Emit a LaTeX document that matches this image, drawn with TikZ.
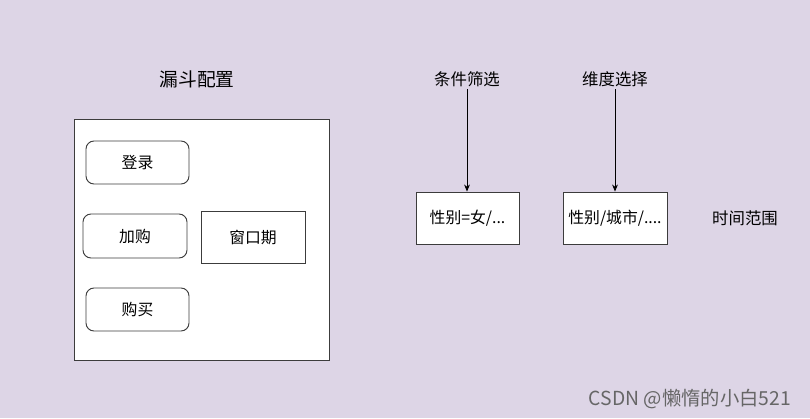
\documentclass[tikz,border=0pt]{standalone}
\usepackage{fontspec}
\setmainfont{Noto Sans CJK SC}
\newfontfamily\wmfont{Noto Sans CJK SC}
\usetikzlibrary{arrows.meta}
\definecolor{bgpurple}{RGB}{221,213,230}
\definecolor{linegray}{RGB}{60,60,60}

\begin{document}
\begin{tikzpicture}[x=0.03cm,y=-0.03cm,
	box/.style={draw=linegray,line width=0.8pt,fill=white,inner sep=0pt,font=\fontsize{13.5}{16}\selectfont},
	stepbox/.style={box,rounded corners=0.24cm},
	label/.style={inner sep=2pt,font=\fontsize{14}{16}\selectfont},
	flow/.style={draw=black,line width=0.7pt,-{Stealth[length=6pt,width=5pt]}}]
	\fill[bgpurple] (0,0) rectangle (810,418);
	\useasboundingbox (0,0) rectangle (810,418);

	% funnel part
	\node[label,font=\fontsize{16}{18}\selectfont] (title) at (197,79) {漏斗配置};
	\node[box,minimum width=7.65cm,minimum height=7.23cm] (funnel) at (201.5,239.5) {};
	\node[stepbox,minimum width=3.09cm,minimum height=1.29cm] (login) at (137.5,162.5) {登录};
	\node[stepbox,minimum width=3.12cm,minimum height=1.32cm] (cart) at (135,236) {加购};
	\node[stepbox,minimum width=3.09cm,minimum height=1.29cm] (buy) at (137.5,309.5) {购买};
	\node[box,minimum width=3.12cm,minimum height=1.56cm] (window) at (253,237) {窗口期};

	% filters
	\node[label] (cond) at (467,79) {条件筛选};
	\node[label] (dim) at (615,79) {维度选择};
	\node[box,minimum width=3.09cm,minimum height=1.56cm] (f1) at (467.5,218) {性别=女/...};
	\node[box,minimum width=3.12cm,minimum height=1.56cm] (f2) at (615,218) {性别/城市/....};
	\node[label] (time) at (745,218) {时间范围};

	\draw[flow] (cond.south) -- (f1.north -| cond.south);
	\draw[flow] (dim.south) -- (f2.north -| dim.south);

	\node[text=gray!80!black,font=\wmfont\fontsize{16.5}{18}\selectfont] (mark) at (690,399) {CSDN @懒惰的小白521};
\end{tikzpicture}
\end{document}
